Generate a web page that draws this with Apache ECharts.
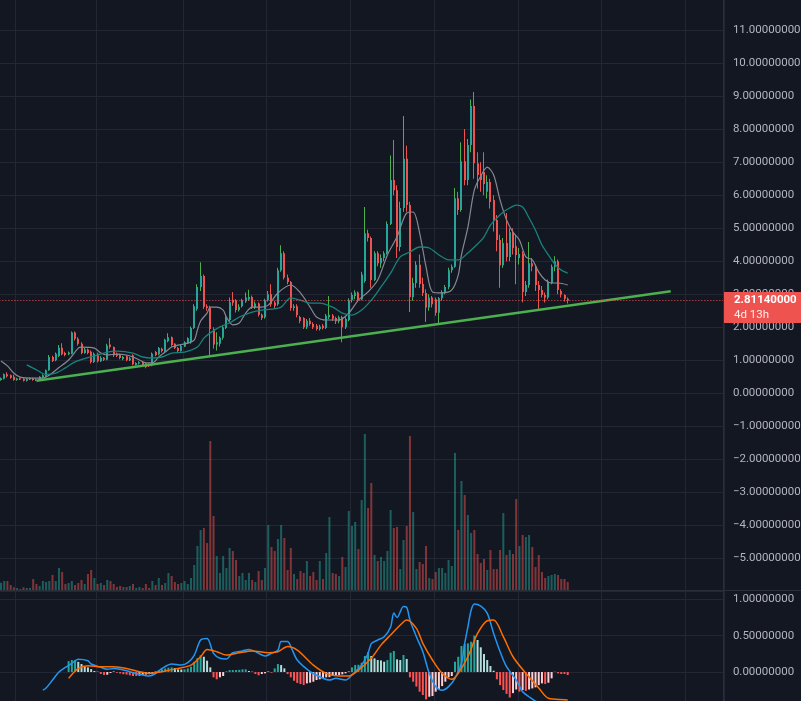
<!DOCTYPE html>
<html>
<head>
<meta charset="utf-8">
<title>Price chart</title>
<script src="https://cdn.jsdelivr.net/npm/echarts@6/dist/echarts.min.js"></script>
<style>
  html, body { margin: 0; padding: 0; background: #131722; }
  #chart { width: 801px; height: 701px; }
</style>
</head>
<body>
<div id="chart"></div>
<script>
// slots on the time axis (candles + empty space on the right)
const SLOTS = 225;
const categories = Array.from({ length: SLOTS }, (_, i) => String(i));
// slots where the month grid lines fall
const monthLines = [5, 30, 57, 83, 109, 135, 161, 187, 213];

// [open, close, low, high]
const candles = [
  [0.40,0.46,0.38,0.48],[0.44,0.58,0.42,0.60],[0.58,0.52,0.48,0.64],[0.55,0.47,0.44,0.57],[0.50,0.40,0.38,0.56],
  [0.40,0.45,0.38,0.47],[0.46,0.42,0.40,0.48],[0.44,0.38,0.36,0.46],[0.38,0.44,0.36,0.46],[0.42,0.46,0.40,0.48],
  [0.46,0.40,0.38,0.47],[0.42,0.39,0.37,0.44],[0.40,0.50,0.38,0.52],[0.48,0.55,0.46,0.58],[0.52,0.70,0.50,0.72],
  [0.70,1.10,0.68,1.16],[1.10,0.98,0.95,1.14],[1.00,1.20,0.97,1.24],[1.13,1.38,1.10,1.46],[1.38,1.18,1.15,1.52],
  [1.22,1.16,1.12,1.26],[1.18,1.24,1.15,1.27],[1.20,1.84,1.18,1.87],[1.84,1.65,1.60,1.87],[1.65,1.50,1.45,1.70],
  [1.50,1.22,1.18,1.55],[1.22,1.33,1.20,1.38],[1.33,1.22,1.18,1.36],[1.26,0.95,0.90,1.30],[0.95,1.20,0.92,1.24],
  [1.20,0.97,0.93,1.23],[0.97,1.08,0.95,1.12],[1.08,1.02,0.98,1.10],[1.02,1.45,1.00,1.50],[1.48,1.40,1.35,1.67],
  [1.40,1.15,1.10,1.42],[1.20,1.14,1.10,1.24],[1.16,1.07,1.03,1.20],[1.04,1.10,1.00,1.13],[1.12,1.00,0.97,1.15],
  [1.00,1.06,0.98,1.10],[1.15,0.88,0.85,1.18],[0.86,0.92,0.84,0.94],[0.90,0.94,0.87,0.97],[0.94,0.86,0.82,0.96],
  [0.90,0.80,0.76,0.92],[0.86,0.82,0.80,0.90],[0.84,1.20,0.82,1.24],[1.25,1.16,1.12,1.28],[1.18,1.37,1.15,1.40],
  [1.35,1.28,1.24,1.38],[1.26,1.62,1.24,1.65],[1.58,1.70,1.55,1.82],[1.70,1.46,1.42,1.72],[1.50,1.37,1.34,1.52],
  [1.37,1.28,1.25,1.40],[1.28,1.43,1.26,1.46],[1.42,1.55,1.40,1.58],[1.52,1.67,1.50,1.70],[1.55,1.98,1.50,2.02],
  [1.98,2.64,1.95,2.70],[2.55,3.22,2.50,3.30],[3.22,3.55,3.10,3.97],[3.55,2.62,2.55,3.60],[2.64,2.58,2.50,2.70],
  [2.60,1.95,1.15,2.65],[1.95,1.48,1.35,2.00],[1.48,1.55,1.30,1.85],[1.50,1.68,1.42,1.72],[1.68,2.00,1.62,2.05],
  [1.98,2.28,1.95,2.33],[2.22,2.76,2.18,2.90],[2.83,2.74,2.65,3.07],[2.80,2.52,2.45,2.85],[2.52,2.62,2.48,2.70],
  [2.64,2.82,2.60,2.86],[2.78,2.90,2.74,3.05],[2.84,2.92,2.80,3.14],[2.92,2.60,2.55,2.96],[2.60,2.72,2.55,2.78],
  [2.72,2.38,2.33,2.75],[2.38,2.28,2.22,2.42],[2.30,2.82,2.26,2.86],[2.82,3.00,2.78,3.10],[3.00,2.70,2.62,3.30],
  [2.75,2.65,2.55,2.80],[2.70,3.73,2.65,3.80],[3.73,4.24,3.68,4.48],[4.24,3.50,3.45,4.30],[3.50,3.37,3.30,3.60],
  [3.37,2.58,2.50,3.40],[2.58,2.64,2.50,2.70],[2.64,2.37,2.30,2.70],[2.31,2.19,2.12,2.35],[2.28,2.00,1.95,2.30],
  [2.00,2.20,1.95,2.25],[2.20,2.10,2.05,2.28],[2.10,2.00,1.95,2.15],[2.05,1.95,1.90,2.10],[1.95,2.02,1.90,2.08],
  [2.05,1.98,1.93,2.10],[1.98,2.35,1.95,2.40],[2.30,2.38,2.25,2.95],[2.36,2.26,2.20,2.40],[2.28,2.18,2.10,2.32],
  [2.18,2.30,2.12,2.35],[2.30,2.00,1.55,2.35],[2.00,2.25,1.95,2.30],[2.22,2.82,2.18,2.88],[2.82,2.98,2.75,3.05],
  [2.95,3.05,2.85,3.12],[3.05,2.85,2.80,3.08],[2.85,3.60,2.82,3.68],[3.40,4.85,3.35,5.64],[4.85,4.70,4.60,4.95],
  [4.70,3.43,3.20,4.75],[3.43,4.24,3.40,4.30],[4.24,3.94,3.85,4.30],[3.94,4.10,3.80,4.20],[4.10,4.24,4.00,4.30],
  [4.24,5.13,4.20,5.20],[5.13,6.46,5.10,7.20],[6.46,6.15,6.00,7.67],[6.15,4.43,4.10,6.30],[4.43,5.61,4.30,5.80],
  [5.61,7.10,5.50,8.40],[7.10,5.70,5.50,7.50],[5.70,2.92,2.46,5.80],[2.92,3.34,2.80,3.50],[3.34,3.89,3.20,4.00],
  [3.89,3.31,3.20,4.20],[3.31,3.04,2.95,3.50],[3.04,2.60,2.16,3.15],[2.60,2.90,2.50,3.00],[2.90,2.70,2.60,2.95],
  [2.85,2.44,2.35,2.90],[2.44,2.88,2.12,2.92],[2.88,3.07,2.80,3.12],[3.07,3.22,3.00,3.28],[3.22,3.73,3.15,3.80],
  [3.73,3.83,3.65,3.90],[3.83,5.91,3.80,6.22],[5.91,5.55,5.40,6.10],[5.55,7.03,5.50,7.60],[7.03,6.46,6.30,8.00],
  [6.46,7.52,6.30,7.70],[7.52,8.70,7.30,8.90],[8.70,6.97,6.50,9.12],[6.97,6.61,6.20,7.30],[6.61,6.46,6.10,7.00],
  [6.70,6.34,6.00,7.30],[6.10,6.40,5.90,6.60],[6.40,5.79,5.60,6.50],[5.85,5.25,4.90,6.00],[5.25,4.64,4.30,5.40],
  [4.64,3.88,3.20,4.80],[3.88,4.55,3.80,4.70],[4.55,4.13,4.00,5.46],[4.13,4.88,4.00,5.00],[4.88,4.40,4.20,5.00],
  [4.45,4.19,3.30,4.80],[4.10,4.22,3.90,4.40],[4.22,3.07,2.76,4.30],[3.07,3.28,2.95,3.40],[3.28,3.94,3.20,4.58],
  [3.94,3.84,3.70,4.10],[3.84,3.28,3.10,3.90],[3.28,3.13,2.50,3.40],[3.13,2.98,2.90,3.25],[2.98,2.90,2.75,3.05],
  [2.90,3.34,2.85,3.45],[3.34,3.83,3.30,3.90],[3.83,4.00,3.70,4.15],[4.00,3.13,3.00,4.05],[3.10,2.99,2.90,3.15],
  [2.98,2.86,2.78,3.00],[2.86,2.8114,2.72,2.90]
];

const volumes = [
  7.3,9,9,5,2.7,2,1,2.7,2,2,11,6,4,9,8,9,15,9,22,18,6,7,9,5,7,10,6,16,20,12,
  6,7,5,10,9,6,3,4,3,3,4,6,2,3,2,6,2,9,5,12,5,7,17,14,8,6,7,9,6,
  12,25,44,60,62,47,149,74,34,17,34,22,42,39,30,14,17,10,17,10,8,19,10,22,65,43,39,51,65,52,
  20,42,16,11,19,17,29,14,18,10,29,11,37,73,17,16,14,33,23,79,64,68,41,90,156,82,107,35,29,
  33,29,39,80,62,63,21,50,64,154,78,21,28,26,44,12,11,18,22,22,17,30,24,137,60,109,95,75,57,60,
  36,27,31,20,40,21,21,40,77,35,40,36,91,44,55,53,55,43,23,35,18,12,14,15,16,15,11,11,8
];

// moving averages, [slot, value]
const maFast = [[0,0.98],[2,0.83],[4,0.61],[6,0.49],[10,0.46],[13,0.46],[15,0.55],[18,0.78],[21,1.01],[24,1.37],
  [25,1.40],[29,1.37],[31,1.22],[33,1.16],[36,1.19],[39,1.16],[41,1.10],[43,1.01],[45,0.92],[47,0.92],[49,1.10],
  [51,1.25],[53,1.40],[55,1.46],[58,1.52],[60,1.61],[61,1.92],[62,2.19],[64,2.43],[65,2.61],[67,2.61],[69,2.52],
  [70,2.31],[72,2.07],[74,2.13],[76,2.43],[78,2.61],[81,2.61],[83,2.67],[86,3.04],[90,3.28],[93,3.04],[96,2.61],
  [98,2.31],[101,2.22],[105,2.22],[108,2.43],[111,2.82],[114,3.07],[117,3.43],[120,4.19],[123,4.74],[126,5.46],
  [128,5.49],[130,4.86],[132,3.83],[134,3.07],[137,3.04],[140,3.13],[142,3.58],[143,4.19],[145,5.03],[147,6.16],
  [149,6.58],[151,6.85],[153,6.61],[155,5.85],[157,5.25],[159,4.88],[161,4.64],[163,4.13],[165,4.04],[167,3.67],
  [169,3.43],[171,3.34],[173,3.34],[176,3.28]];
const maSlow = [[8,0.86],[11,0.71],[14,0.57],[17,0.61],[20,0.77],[23,0.95],[27,1.08],[30,1.16],[33,1.25],[36,1.28],
  [41,1.22],[44,1.10],[47,1.07],[50,1.10],[53,1.22],[57,1.25],[61,1.40],[63,1.67],[65,1.83],[68,2.01],[71,2.13],
  [74,2.31],[78,2.46],[81,2.52],[84,2.55],[87,2.61],[90,2.89],[93,2.82],[96,2.73],[99,2.73],[103,2.61],[106,2.43],
  [109,2.37],[112,2.52],[115,2.82],[118,3.22],[121,3.64],[124,4.13],[127,4.28],[130,4.43],[133,4.40],[136,4.19],
  [139,4.04],[142,4.04],[145,4.25],[148,4.52],[150,4.74],[152,5.09],[154,5.31],[156,5.49],[158,5.61],[160,5.70],
  [162,5.64],[164,5.31],[166,4.94],[168,4.49],[170,4.19],[172,3.91],[174,3.73],[176,3.64]];

// drawn support trend line
const trendSlots = [11, 208];
const trendValues = [0.38, 3.09];

// MACD pane
const macdLine = [[13,-0.25],[14,-0.22],[16,-0.11],[18,0.0],[20,0.065],[22,0.12],[24,0.175],[27,0.155],[28,0.11],
  [31,0.065],[33,0.037],[35,0.05],[37,0.037],[40,0.005],[43,-0.03],[46,-0.055],[48,-0.02],[50,0.05],[53,0.11],
  [56,0.096],[58,0.128],[60,0.23],[62,0.44],[64,0.46],[66,0.257],[68,0.19],[70,0.18],[72,0.265],[75,0.29],
  [77,0.31],[79,0.28],[82,0.22],[84,0.257],[86,0.30],[87,0.42],[89,0.42],[90,0.35],[92,0.165],[96,0.005],
  [99,-0.065],[102,-0.11],[104,-0.087],[107,-0.11],[109,-0.04],[112,0.096],[114,0.257],[115,0.39],[117,0.44],
  [119,0.486],[121,0.62],[122,0.81],[123,0.75],[125,0.90],[126,0.89],[127,0.715],[129,0.486],[131,0.28],
  [133,-0.018],[135,-0.2],[137,-0.25],[139,-0.2],[141,-0.087],[143,0.12],[144,0.39],[145,0.62],[146,0.85],
  [147,0.935],[149,0.907],[151,0.81],[153,0.53],[155,0.28],[157,0.073],[160,-0.11],[162,-0.27],[164,-0.34],
  [166,-0.40],[170,-0.46],[176,-0.5]];
const signalLine = [[21,-0.087],[24,0.05],[27,0.087],[31,0.073],[35,0.073],[39,0.05],[43,0.005],[46,-0.018],
  [50,0.005],[55,0.05],[59,0.096],[62,0.21],[64,0.31],[67,0.28],[70,0.234],[74,0.265],[78,0.29],[83,0.265],
  [86,0.28],[89,0.35],[92,0.30],[97,0.096],[101,-0.018],[105,-0.055],[108,-0.055],[111,0.027],[115,0.19],
  [118,0.37],[121,0.51],[124,0.646],[126,0.715],[129,0.60],[131,0.395],[134,0.165],[137,-0.018],[140,-0.1],
  [142,-0.018],[145,0.21],[148,0.53],[151,0.705],[153,0.715],[156,0.486],[159,0.21],[163,-0.018],[167,-0.22],
  [170,-0.36],[175,-0.38],[176,-0.385]];
const histStart = 21;
const histValues = [
  0.15,0.165,0.165,0.14,0.11,0.073,0.064,0.04,0.014,0.005,-0.027,-0.04,-0.037,-0.014,0.014,-0.01,-0.02,-0.03,-0.035,
  -0.045,-0.055,-0.055,-0.05,-0.04,-0.035,-0.03,-0.02,0.014,0.027,0.037,0.05,0.06,0.064,0.055,0.037,0.035,0.037,
  0.05,0.073,0.14,0.19,0.23,0.21,0.156,0.064,-0.073,-0.1,-0.073,-0.055,0.01,0.027,0.027,0.028,0.03,0.037,0.037,
  0.014,0.005,-0.027,-0.045,-0.027,-0.018,0.014,-0.01,0.05,0.11,0.096,0.05,-0.028,-0.073,-0.12,-0.15,-0.165,
  -0.179,-0.156,-0.147,-0.133,-0.11,-0.1,-0.087,-0.073,-0.07,-0.055,-0.05,-0.041,-0.032,-0.018,0.014,0.064,0.096,
  0.1,0.128,0.22,0.275,0.22,0.188,0.165,0.16,0.142,0.165,0.266,0.29,0.174,0.165,0.234,0.18,-0.073,-0.133,-0.2,
  -0.27,-0.316,-0.376,-0.34,-0.33,-0.27,-0.238,-0.193,-0.133,-0.073,-0.055,0.142,0.21,0.358,0.385,0.394,0.417,
  0.5,0.44,0.34,0.248,0.165,0.083,0.018,-0.1,-0.18,-0.248,-0.3,-0.35,-0.29,-0.24,-0.27,-0.248,-0.26,-0.24,
  -0.225,-0.21,-0.18,-0.156,-0.165,-0.147,-0.087,0.005,-0.018,-0.027,-0.027,-0.041
];

const lastPrice = 2.8114;
const countdown = '4d 13h';

const BG = '#131722';
const GRID = '#232733';
const BORDER = '#2a2e39';
const TEXT = '#b2b5be';
const UP = '#26a69a';
const UP_WICK = '#4caf50';
const DOWN = '#ef5350';
const FONT = 'Roboto';

const fmt = v => (v < 0 ? '\u2212' : '') + Math.abs(v).toFixed(8);
const isUp = i => candles[i][1] >= candles[i][0];

const gridLeft = -0.61;
const gridWidth = 724.5;

const chart = echarts.init(document.getElementById('chart'), null, { renderer: 'canvas' });

const splitX = {
  show: true,
  interval: (idx) => monthLines.indexOf(idx) !== -1,
  lineStyle: { color: GRID, width: 1 }
};
const hiddenCat = (gridIndex, split) => ({
  type: 'category', gridIndex, data: categories, boundaryGap: true,
  axisLine: { show: false }, axisTick: { show: false }, axisLabel: { show: false },
  splitLine: split ? splitX : { show: false }
});

const histData = histValues.map((v, k) => {
  const prev = k > 0 ? histValues[k - 1] : v;
  let color;
  if (v >= 0) color = v >= prev ? UP : '#b2dfdb';
  else color = v <= prev ? '#ff5252' : '#ffcdd2';
  return { value: [histStart + k, v], itemStyle: { color } };
});

const option = {
  backgroundColor: BG,
  animation: false,
  grid: [
    { left: gridLeft, top: -3, width: gridWidth, height: 594.5, outerBoundsMode: 'none' },
    { left: gridLeft, top: 430, width: gridWidth, height: 160, outerBoundsMode: 'none' },
    { left: gridLeft, top: 591, width: gridWidth, height: 117.4, outerBoundsMode: 'none' }
  ],
  xAxis: [hiddenCat(0, true), hiddenCat(1, false), hiddenCat(2, true)],
  yAxis: [
    {
      type: 'value', gridIndex: 0, position: 'right', min: -6, max: 12, interval: 1,
      axisLine: { show: false }, axisTick: { show: false },
      axisLabel: {
        color: TEXT, fontFamily: FONT, fontSize: 11.5, align: 'left', margin: 9,
        showMaxLabel: true, showMinLabel: false,
        formatter: v => (v <= -6 ? '' : fmt(v))
      },
      splitLine: { lineStyle: { color: GRID, width: 1 } }
    },
    { type: 'value', gridIndex: 1, min: 0, max: 160, show: false },
    {
      type: 'value', gridIndex: 2, position: 'right', min: -0.5, max: 1.114, interval: 0.5,
      axisLine: { show: false }, axisTick: { show: false },
      axisLabel: {
        color: TEXT, fontFamily: FONT, fontSize: 11.5, align: 'left', margin: 9,
        formatter: v => (Math.abs(v * 2 - Math.round(v * 2)) < 1e-6 && v > -0.5 ? fmt(v) : '')
      },
      splitLine: { lineStyle: { color: GRID, width: 1 } }
    }
  ],
  series: [
    {
      name: 'Volume', type: 'bar', xAxisIndex: 1, yAxisIndex: 1, barWidth: 2, z: 1, silent: true,
      data: volumes.map((v, i) => ({
        value: v,
        itemStyle: { color: isUp(i) ? 'rgba(38,166,154,0.5)' : 'rgba(239,83,80,0.5)' }
      }))
    },
    {
      name: 'Price', type: 'custom', xAxisIndex: 0, yAxisIndex: 0, z: 2,
      data: candles.map((c, i) => [i, c[0], c[1], c[2], c[3]]),
      encode: { x: 0, y: [1, 2, 3, 4] },
      renderItem(params, api) {
        const i = api.value(0);
        const o = api.value(1), c = api.value(2), l = api.value(3), h = api.value(4);
        const top = api.coord([i, Math.max(o, c)]);
        const bot = api.coord([i, Math.min(o, c)]);
        const hi = api.coord([i, h]);
        const lo = api.coord([i, l]);
        const cx = Math.round(top[0]);
        const up = c >= o;
        return {
          type: 'group',
          children: [
            { type: 'rect', shape: { x: cx - 1, y: hi[1], width: 1, height: lo[1] - hi[1] },
              style: { fill: up ? UP_WICK : DOWN } },
            { type: 'rect', shape: { x: cx - 1, y: top[1], width: 2, height: Math.max(1, bot[1] - top[1]) },
              style: { fill: up ? UP : DOWN } }
          ]
        };
      },
      markLine: {
        silent: true, symbol: 'none', animation: false,
        label: { show: false },
        lineStyle: { color: DOWN, type: [1, 2], width: 1 },
        data: [{ yAxis: lastPrice }]
      }
    },
    {
      name: 'MA fast', type: 'line', xAxisIndex: 0, yAxisIndex: 0, z: 3, data: maFast,
      showSymbol: false, smooth: 0.3, lineStyle: { color: '#868993', width: 1.2 }
    },
    {
      name: 'MA slow', type: 'line', xAxisIndex: 0, yAxisIndex: 0, z: 3, data: maSlow,
      showSymbol: false, smooth: 0.3, lineStyle: { color: '#17837c', width: 1.3 }
    },
    {
      name: 'Trend', type: 'line', xAxisIndex: 0, yAxisIndex: 0, z: 4,
      data: trendSlots.map((s, k) => [s, trendValues[k]]),
      showSymbol: false, lineStyle: { color: UP_WICK, width: 2.5 }
    },
    {
      name: 'Histogram', type: 'bar', xAxisIndex: 2, yAxisIndex: 2, barWidth: 2, z: 1, data: histData
    },
    {
      name: 'MACD', type: 'line', xAxisIndex: 2, yAxisIndex: 2, z: 3, data: macdLine,
      showSymbol: false, smooth: 0.3, lineStyle: { color: '#2196f3', width: 1.5 }
    },
    {
      name: 'Signal', type: 'line', xAxisIndex: 2, yAxisIndex: 2, z: 3, data: signalLine,
      showSymbol: false, smooth: 0.3, lineStyle: { color: '#ff6d00', width: 1.5 }
    }
  ]
};

chart.setOption(option);

// price tag and pane borders
const py = chart.convertToPixel({ yAxisIndex: 0 }, lastPrice);
const axisX = gridLeft + gridWidth;
chart.setOption({
  graphic: [
    { type: 'rect', z: 50, shape: { x: 0, y: 590, width: 801, height: 1 }, style: { fill: BORDER } },
    { type: 'rect', z: 50, shape: { x: Math.round(axisX) - 1, y: 0, width: 1, height: 701 }, style: { fill: BORDER } },
    { type: 'rect', z: 60, shape: { x: Math.round(axisX), y: Math.round(py) - 8, width: 801 - Math.round(axisX), height: 31 },
      style: { fill: DOWN } },
    { type: 'text', z: 61, x: Math.round(axisX) + 10, y: py,
      style: { text: lastPrice.toFixed(8), fill: '#ffffff', font: 'bold 11.5px Roboto', verticalAlign: 'middle' } },
    { type: 'text', z: 61, x: Math.round(axisX) + 10, y: py + 14.5,
      style: { text: countdown, fill: 'rgba(255,255,255,0.9)', font: '11.5px Roboto', verticalAlign: 'middle' } }
  ]
});
</script>
</body>
</html>
